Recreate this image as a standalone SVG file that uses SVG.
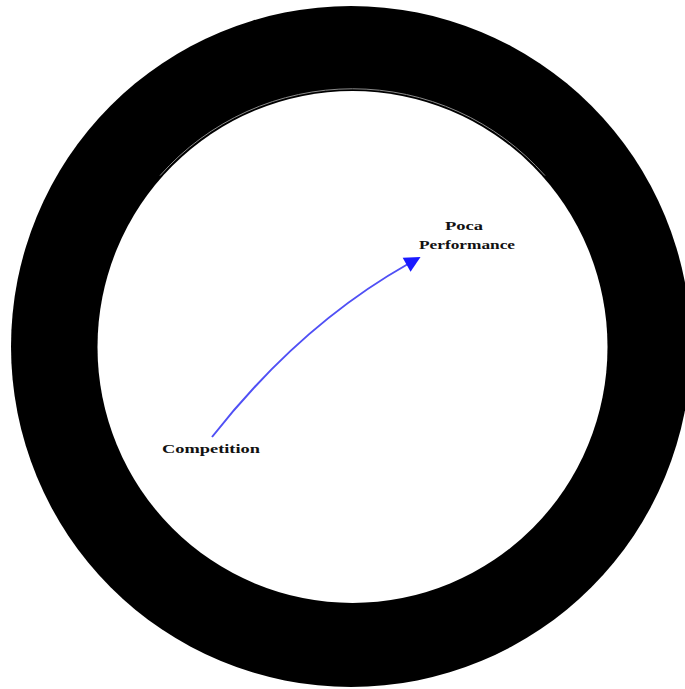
<svg xmlns="http://www.w3.org/2000/svg" width="685" height="689" viewBox="0 0 685 689">
<defs>
<style>
.lbl{font-family:"Liberation Serif","Times New Roman",serif;font-weight:bold;font-size:13px;fill:#111;}
.conn{fill:none;stroke:#5050f5;stroke-width:2;}
</style>
<marker id="ah" viewBox="0 0 10 10" refX="2" refY="5" markerWidth="8" markerHeight="8" markerUnits="userSpaceOnUse" orient="auto" overflow="visible">
<path d="M0,0 L10,5 L0,10 z" fill="#1a1aff" transform="scale(2)" transform-origin="0 5"/>
</marker>
</defs>
<rect width="685" height="689" fill="#fff"/>
<g id="ring">
<ellipse cx="351" cy="346.5" rx="340" ry="340.5" fill="#000"/>
<ellipse cx="352.5" cy="347" rx="255" ry="256" fill="#fff"/>
<path d="M160,175.6 A257.5,258.5 0 0 1 545,175.6" fill="none" stroke="#8a8a8a" stroke-width="1"/>
</g>
<g id="connectors">
<path class="conn" d="M212,437 Q300,325 408,264" marker-end="url(#ah)"/>
</g>
<g id="node-poca">
<text class="lbl" x="464" y="230" text-anchor="middle" textLength="38" lengthAdjust="spacingAndGlyphs">Poca</text>
<text class="lbl" x="467" y="249" text-anchor="middle" textLength="96" lengthAdjust="spacingAndGlyphs">Performance</text>
</g>
<g id="node-competition">
<text class="lbl" x="211" y="453" text-anchor="middle" textLength="98" lengthAdjust="spacingAndGlyphs">Competition</text>
</g>
</svg>
